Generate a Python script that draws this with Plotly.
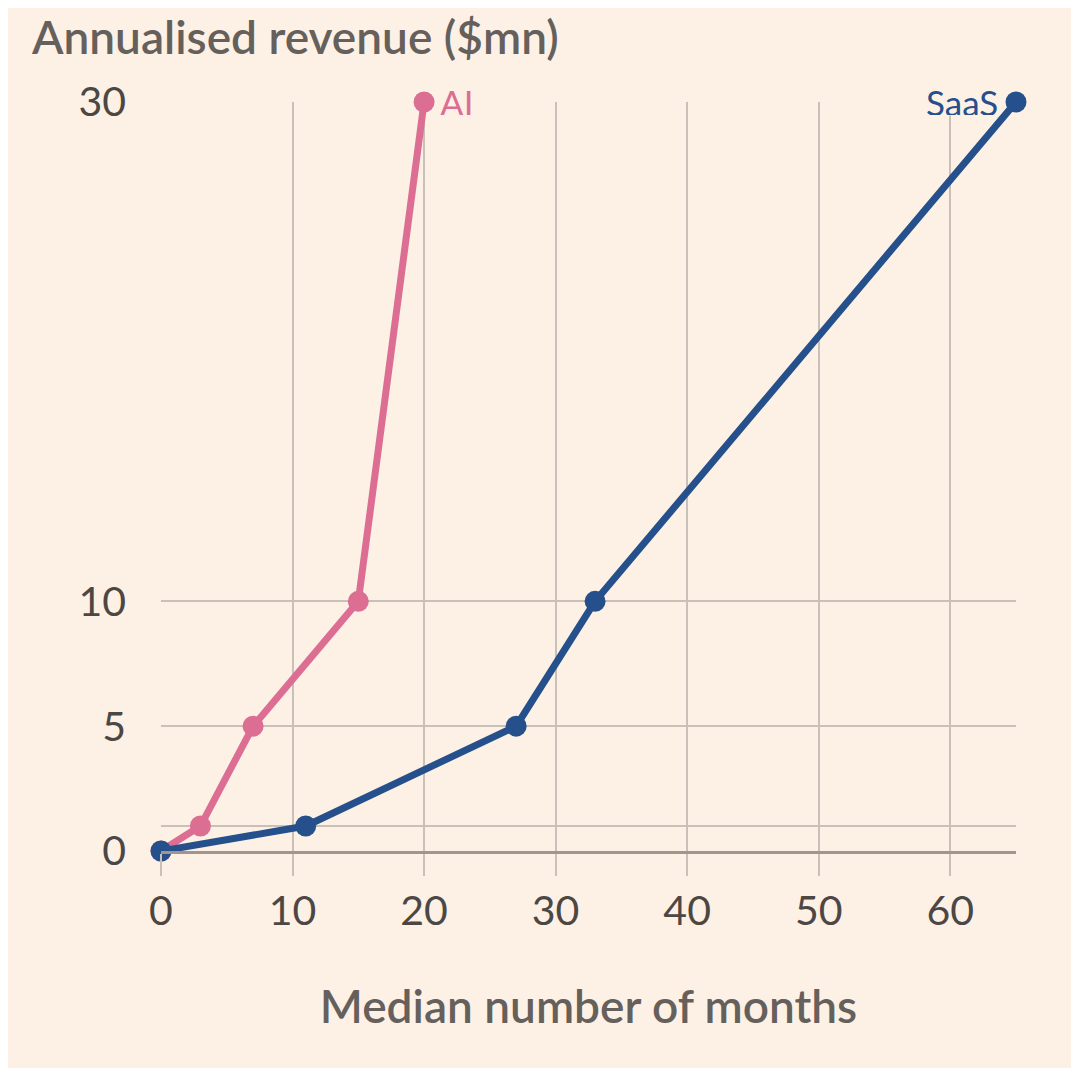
import plotly.graph_objects as go

# Data
ai_months = [0, 3, 7, 15, 20]
ai_revenue = [0, 1, 5, 10, 30]
saas_months = [0, 11, 27, 33, 65]
saas_revenue = [0, 1, 5, 10, 30]

y_ticks = [0, 1, 5, 10, 30]
y_labels = ['0', '', '5', '10', '30']
x_ticks = [0, 10, 20, 30, 40, 50, 60]

pink = '#dc6e93'
blue = '#25508c'
bg = '#fdf1e6'
grid = '#c9c0b9'
font = 'Lato'

fig = go.Figure()

fig.add_trace(go.Scatter(
    x=ai_months, y=ai_revenue, mode='lines+markers',
    line=dict(color=pink, width=7), marker=dict(size=21, color=pink),
    cliponaxis=False, showlegend=False))

fig.add_trace(go.Scatter(
    x=saas_months, y=saas_revenue, mode='lines+markers',
    line=dict(color=blue, width=7), marker=dict(size=21, color=blue),
    cliponaxis=False, showlegend=False))

# Series labels (short bg box so it hides the gridline but not the line)
fig.add_annotation(x=ai_months[-1], y=ai_revenue[-1], text='AI', showarrow=False,
                   xanchor='left', xshift=15, height=26,
                   font=dict(family=font, size=35, color=pink),
                   bgcolor=bg, borderpad=0)
fig.add_annotation(x=saas_months[-1], y=saas_revenue[-1], text='SaaS', showarrow=False,
                   xanchor='right', xshift=-17, height=26,
                   font=dict(family=font, size=35, color=blue),
                   bgcolor=bg, borderpad=0)

fig.update_layout(
    width=1063, height=1060,
    paper_bgcolor=bg, plot_bgcolor=bg,
    margin=dict(l=153, r=55, t=94, b=217),
    font=dict(family=font, color='#4d4744'),
    title=dict(text='Annualised revenue ($mn)', x=24/1063, xanchor='left',
               y=1 - 30/1060, yanchor='middle',
               font=dict(family=font, size=46, color='#66605c', weight=600)),
    xaxis=dict(range=[0, 65], tickvals=x_ticks, showgrid=True, gridcolor=grid, gridwidth=2,
               zeroline=False, showline=True, linecolor='#a0968f', linewidth=3,
               ticks='outside', ticklen=22, tickwidth=2, tickcolor=grid,
               tickfont=dict(size=41, color='#4d4744'),
               title=dict(text='Median number of months', standoff=58,
                          font=dict(size=46, color='#66605c', weight=600))),
    yaxis=dict(range=[0, 30], tickvals=y_ticks, ticktext=y_labels, showgrid=True,
               gridcolor=grid, gridwidth=2, zeroline=False, ticks='',
               ticklabelstandoff=34, tickfont=dict(size=41, color='#4d4744')),
)

fig.write_html("out.html")
